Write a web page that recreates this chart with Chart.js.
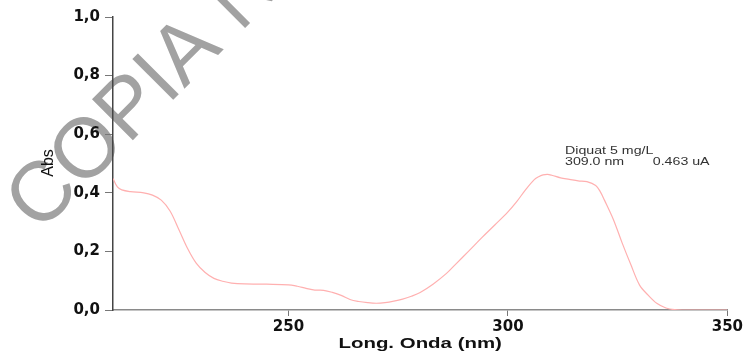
<!doctype html>
<html><head>
<meta charset="utf-8">
<title>Diquat 5 mg/L</title>
<script src="https://cdn.jsdelivr.net/npm/chart.js"></script>
<style>
  html, body { margin: 0; padding: 0; background: #fff; }
  #wrap { width: 745px; height: 354px; position: relative; }
</style>
</head>
<body>
<div id="wrap"><canvas id="espectro"></canvas></div>
<script>
const longOnda = [210,211,212,214,217,219,221,223,225,227,229,231,233,235,237,240,245,250,252,254,256,258,260,262,264,266,268,270,272,274,276,278,280,283,286,288,291,294,297,300,302,304,306,307,308,309,310,312,314,316,318,320,321,322,324,326,328,330,332,334,336,338,340,345,350];
const absorbancia = [0.449,0.420,0.410,0.404,0.400,0.392,0.375,0.338,0.275,0.210,0.159,0.128,0.108,0.098,0.092,0.089,0.088,0.086,0.081,0.074,0.068,0.067,0.060,0.050,0.036,0.029,0.025,0.023,0.025,0.030,0.037,0.047,0.060,0.089,0.125,0.155,0.200,0.246,0.290,0.335,0.370,0.410,0.445,0.455,0.461,0.463,0.460,0.451,0.446,0.441,0.438,0.425,0.405,0.375,0.310,0.230,0.155,0.085,0.050,0.022,0.007,0.001,0,0,0];
const ticksX = [250, 300, 350];
const ticksY = [0, 0.2, 0.4, 0.6, 0.8, 1.0];
const nota = ['Diquat 5 mg/L', '309.0 nm', '0.463 uA'];

const FUENTE = "'Liberation Sans', Arial, sans-serif";
const FUENTE_ANCHA = "'DejaVu Sans', Verdana, sans-serif";

// texto estirado en horizontal (la imagen original esta ensanchada)
function textoAncho(c, txt, x, y, k) {
  c.save();
  c.translate(x, y);
  c.scale(k, 1);
  c.fillText(txt, 0, 0);
  c.restore();
}

// marca de agua + textos sueltos
const extras = {
  id: 'extras',
  beforeDraw(chart) {
    const c = chart.ctx;
    c.save();
    c.translate(39, 234);
    c.rotate(-45 * Math.PI / 180);
    c.fillStyle = '#a2a2a2';
    c.font = '84px ' + FUENTE;
    c.textBaseline = 'alphabetic';
    c.fillText('COPIA NO CONTROLADA', 0, 0);
    c.restore();
  },
  afterDraw(chart) {
    const c = chart.ctx;
    const sx = chart.scales.x, sy = chart.scales.y;

    // titulo eje y
    c.save();
    c.translate(49, 163);
    c.rotate(-Math.PI / 2);
    c.font = '16px ' + FUENTE;
    c.fillStyle = '#111';
    c.textAlign = 'center';
    c.textBaseline = 'middle';
    c.fillText('Abs', 0, 0);
    c.restore();

    // titulo eje x
    c.save();
    c.font = 'bold 14px ' + FUENTE;
    c.fillStyle = '#111';
    c.textAlign = 'center';
    c.textBaseline = 'middle';
    textoAncho(c, 'Long. Onda (nm)', (chart.chartArea.left + chart.chartArea.right) / 2, 344, 1.46);
    c.restore();

    // nota del pico
    c.save();
    c.font = '10px ' + FUENTE;
    c.fillStyle = '#333';
    c.textBaseline = 'middle';
    const x0 = sx.getPixelForValue(313);
    textoAncho(c, nota[0], x0, sy.getPixelForValue(0.543), 1.42);
    textoAncho(c, nota[1], x0, sy.getPixelForValue(0.505), 1.42);
    textoAncho(c, nota[2], sx.getPixelForValue(333), sy.getPixelForValue(0.505), 1.42);
    c.restore();
  }
};

const puntos = longOnda.map((x, i) => ({ x: x, y: absorbancia[i] }));

new Chart(document.getElementById('espectro'), {
  type: 'scatter',
  data: {
    datasets: [{
      label: 'Diquat 5 mg/L',
      data: puntos,
      showLine: true,
      borderColor: '#ffb0b0',
      borderWidth: 1.2,
      pointRadius: 0,
      tension: 0.35,
      fill: false
    }]
  },
  options: {
    responsive: true,
    maintainAspectRatio: false,
    animation: false,
    layout: { padding: { top: 17, right: 17, left: 0, bottom: 0 } },
    plugins: { legend: { display: false }, tooltip: { enabled: false } },
    scales: {
      x: {
        type: 'linear',
        min: 210, max: 350,
        afterBuildTicks(s) { s.ticks = ticksX.map(v => ({ value: v })); },
        afterFit(s) { s.height = 44; },
        border: { color: '#8a8a8a', width: 1.5 },
        grid: { drawOnChartArea: false, tickLength: 6, color: '#777', lineWidth: 1 },
        ticks: {
          font: { family: FUENTE_ANCHA, size: 15, weight: 'bold' },
          color: '#111', padding: 2, maxRotation: 0
        }
      },
      y: {
        min: 0, max: 1,
        afterBuildTicks(s) { s.ticks = ticksY.map(v => ({ value: v })); },
        afterFit(s) { s.width = 113; },
        border: { color: '#444', width: 1.5 },
        grid: { drawOnChartArea: false, tickLength: 8, color: '#777', lineWidth: 1 },
        ticks: {
          font: { family: FUENTE_ANCHA, size: 15, weight: 'bold' },
          color: '#111', padding: 5,
          callback: v => v.toFixed(1).replace('.', ',')
        }
      }
    }
  },
  plugins: [extras]
});
</script>
</body></html>
